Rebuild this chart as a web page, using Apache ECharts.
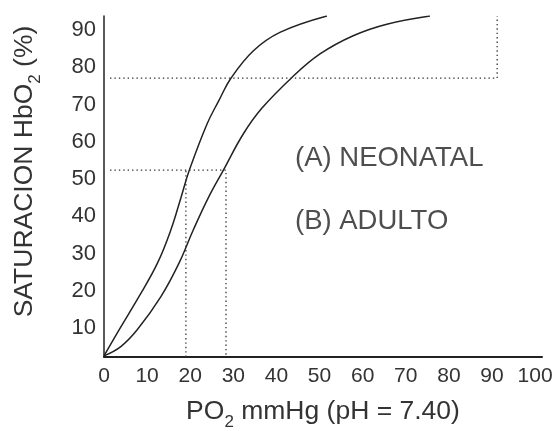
<!DOCTYPE html>
<html>
<head>
<meta charset="utf-8">
<script src="https://cdn.jsdelivr.net/npm/echarts@6/dist/echarts.min.js"></script>
<style>html,body{margin:0;padding:0;background:#fff;}#c{width:559px;height:431px;}</style>
</head>
<body>
<div id="c"></div>
<script>
// Tick labels
const xTicks = [0, 10, 20, 30, 40, 50, 60, 70, 80, 90, 100];
const yTicks = [10, 20, 30, 40, 50, 60, 70, 80, 90];
// Curves [PO2, saturation]
const neonatal = [[0, 2.5], [3.5, 9.5], [8.1, 18.4], [12.4, 27.4], [15.5, 36.3], [17.9, 45.2], [19.8, 52.4], [23.9, 64.8], [26.7, 71.2], [29.4, 77.0], [34.6, 84.4], [40.8, 89.4], [51.7, 93.8]];
const adulto = [[0, 2.5], [3.9, 5.0], [7.7, 9.5], [13.2, 18.4], [17.4, 27.4], [20.7, 36.3], [24.3, 45.2], [27.7, 52.4], [32.3, 62.1], [36.6, 69.0], [43.6, 77.3], [50.1, 83.6], [57.8, 88.5], [65.6, 91.6], [75.6, 93.8]];
// Dotted guide lines
const guide1 = [[19.0, 2.2], [19.0, 52.4]];
const guide2 = [[1.4, 52.4], [28.3, 52.4], [28.3, 2.2]];
const guide3 = [[1.4, 77.1], [91.2, 77.1], [91.2, 93.8]];
// Annotations
const notes = [
  { name: '(A) NEONATAL', value: [44.3, 55.6] },
  { name: '(B) ADULTO', value: [44.3, 38.5] }
];

const FONT = 'Liberation Sans, Arial, sans-serif';
const chart = echarts.init(document.getElementById('c'), null, { renderer: 'canvas' });
const curveStyle = { color: '#222', width: 1.5 };
const dotStyle = { color: '#333', width: 1.3, type: [1.4, 3] };
function lineSeries(data, style, smooth) {
  return { type: 'line', data: data, symbol: 'none', smooth: smooth, lineStyle: style, clip: true, silent: true };
}
chart.setOption({
  animation: false,
  backgroundColor: '#fff',
  grid: { left: 104, right: 17, top: 16, bottom: 74, outerBoundsMode: 'none', containLabel: false },
  xAxis: {
    type: 'value', min: 0, max: 101.6,
    axisLine: { show: true, onZero: false, lineStyle: { color: '#222', width: 2 } },
    axisTick: { show: false }, splitLine: { show: false },
    axisLabel: { customValues: xTicks, fontSize: 21, color: '#333', margin: 9, fontFamily: FONT },
    name: '{a|PO}{s|2}{a| mmHg (pH = 7.40)}',
    nameLocation: 'middle', nameGap: 36,
    nameTextStyle: {
      fontFamily: FONT, color: '#333',
      rich: {
        a: { fontSize: 26.5, fontFamily: FONT, color: '#333', lineHeight: 38 },
        s: { fontSize: 17, fontFamily: FONT, color: '#333', verticalAlign: 'bottom', lineHeight: 38 }
      }
    }
  },
  yAxis: {
    type: 'value', min: 2.2, max: 93.8,
    axisLine: { show: true, onZero: false, lineStyle: { color: '#222', width: 1.5 } },
    axisTick: { show: false }, splitLine: { show: false },
    axisLabel: { customValues: yTicks, fontSize: 22, color: '#333', margin: 8, fontFamily: FONT },
    name: '{a|SATURACION HbO}{s|2}{a| (%)}',
    nameLocation: 'middle', nameGap: 60, nameRotate: 90,
    nameTextStyle: {
      fontFamily: FONT, color: '#333', padding: [0, 0, 0, 30],
      rich: {
        a: { fontSize: 26.5, fontFamily: FONT, color: '#333', lineHeight: 38 },
        s: { fontSize: 17, fontFamily: FONT, color: '#333', verticalAlign: 'bottom', lineHeight: 38 }
      }
    }
  },
  series: [
    lineSeries(neonatal, curveStyle, 0.4),
    lineSeries(adulto, curveStyle, 0.4),
    lineSeries(guide1, dotStyle, false),
    lineSeries(guide2, dotStyle, false),
    lineSeries(guide3, dotStyle, false),
    {
      type: 'scatter', data: notes, symbolSize: 0, silent: true,
      label: { show: true, formatter: '{b}', position: 'right', distance: 0, fontSize: 27.5, color: '#222', fontFamily: FONT }
    }
  ]
});
</script>
</body>
</html>
